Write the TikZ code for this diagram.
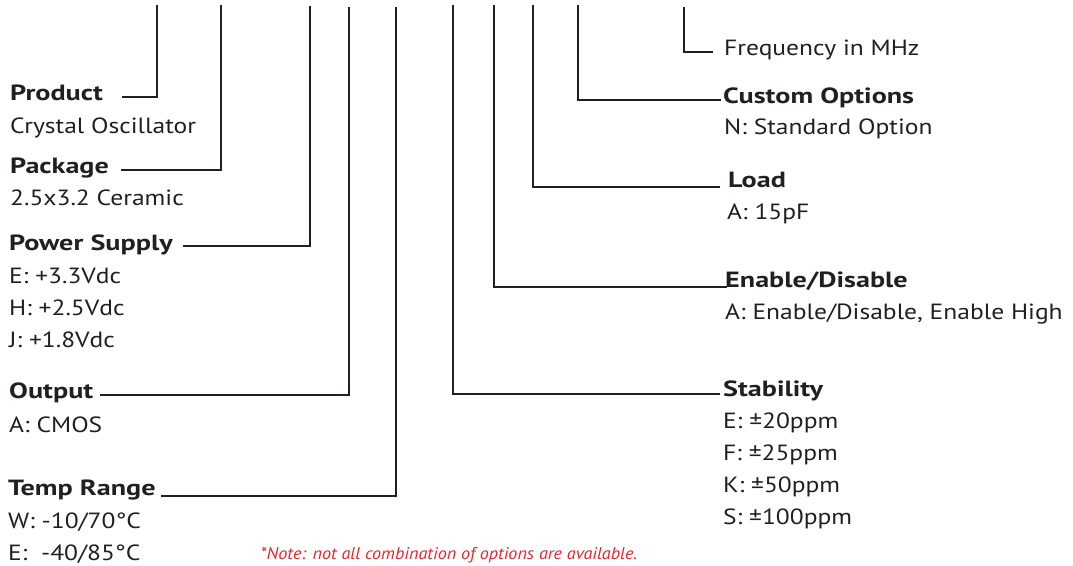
\documentclass[tikz,border=0pt]{standalone}
\usepackage{fontspec}
\setmainfont{PT Sans}
\newfontfamily\regf{PT Sans}[FakeStretch=1.16]
\newfontfamily\boldf{PT Sans}[FakeStretch=1.28]
\newfontfamily\notef{PT Sans}[FakeStretch=1.065]
\definecolor{ink}{HTML}{231F20}
\definecolor{notered}{HTML}{E0282E}
\begin{document}
\begin{tikzpicture}[x=1pt,y=-1pt,
  lbl/.style={anchor=base west, inner sep=0pt, text=ink, font=\fontsize{22}{22}\regf},
  head/.style={anchor=base west, inner sep=0pt, text=ink, font=\fontsize{22}{22}\boldf\bfseries},
  lead/.style={draw=ink, line width=2.4pt, line cap=butt, line join=miter}]
\useasboundingbox (0,0) rectangle (1073,565);

% left column
\node[head] (prod) at (10,100) {Product};
\node[lbl] (prodv) at (10,133) {Crystal Oscillator};
\node[head] (pack) at (10,173) {Package};
\node[lbl] (packv) at (10,205) {2.5x3.2 Ceramic};
\node[head] (pow) at (9,250) {Power Supply};
\node[lbl] (powe) at (9,283) {E: +3.3Vdc};
\node[lbl] (powh) at (9,315) {H: +2.5Vdc};
\node[lbl] (powj) at (9,347) {J: +1.8Vdc};
\node[head] (outp) at (9,398) {Output};
\node[lbl] (outa) at (9,432) {A: CMOS};
\node[head] (temp) at (8,495) {Temp Range};
\node[lbl] (tempw) at (8,528) {W: -10/70°C};
\node[lbl] (tempe) at (8,560) {E:\ \ -40/85°C};

% right column
\node[lbl] (freq) at (724,55) {Frequency in MHz};
\node[head] (cust) at (723,103) {Custom Options};
\node[lbl] (custn) at (724,134) {N: Standard Option};
\node[head] (load) at (728,187) {Load};
\node[lbl] (loada) at (727,219) {A: 15pF};
\node[head] (enab) at (725,287) {Enable/Disable};
\node[lbl] (enaba) at (725,319) {A: Enable/Disable, Enable High};
\node[head] (stab) at (723,396) {Stability};
\node[lbl] (stabe) at (723,428) {E: ±20ppm};
\node[lbl] (stabf) at (723,460) {F: ±25ppm};
\node[lbl] (stabk) at (723,492) {K: ±50ppm};
\node[lbl] (stabs) at (723,524) {S: ±100ppm};

% note
\node[anchor=base, inner sep=0pt, text=notered, font=\fontsize{17}{17}\notef\itshape] (note) at (449,559.5) {*Note: not all combination of options are available.};

% leader end points
\coordinate (t1) at (157,5);  \coordinate (e1) at (122,97);
\coordinate (t2) at (221,5);  \coordinate (e2) at (121,170);
\coordinate (t3) at (310,6);  \coordinate (e3) at (183,246);
\coordinate (t4) at (349,7);  \coordinate (e4) at (100,395);
\coordinate (t5) at (396,7);  \coordinate (e5) at (161,496);
\coordinate (t6) at (453,5);  \coordinate (e6) at (720,394);
\coordinate (t7) at (494,5);  \coordinate (e7) at (727,287);
\coordinate (t8) at (533,5);  \coordinate (e8) at (720,187);
\coordinate (t9) at (578,5);  \coordinate (e9) at (721,100);
\coordinate (t10) at (684,7); \coordinate (e10) at (713,52);

\foreach \i in {1,...,10} {\draw[lead] (t\i) |- (e\i);}
\end{tikzpicture}
\end{document}
